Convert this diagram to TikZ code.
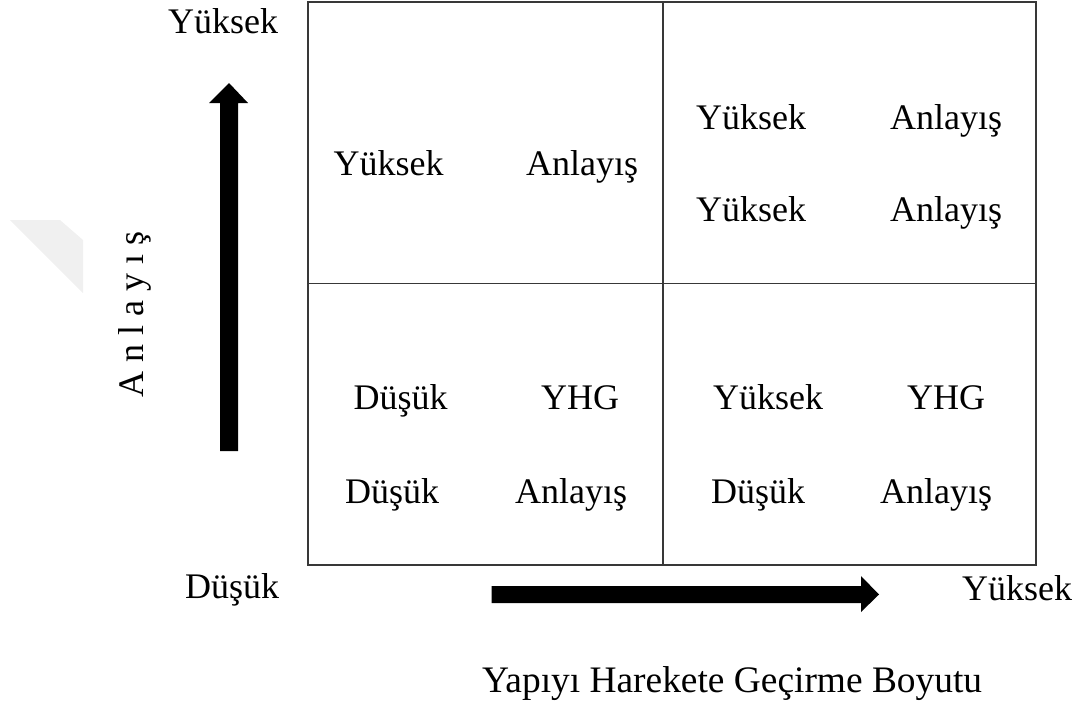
\documentclass[tikz,border=0pt]{standalone}
\usepackage{fontspec}
\setmainfont{Liberation Serif}
\begin{document}
\begin{tikzpicture}[x=1pt,y=-1pt,
  lbl/.style={anchor=base west,inner sep=0pt,font=\fontsize{36}{40}\selectfont},
  grid/.style={draw=black!78,line width=1.7pt},
  blockarrow/.style={fill=black}]
\useasboundingbox (0,0) rectangle (1073,704);

% faint mark at the left margin
\fill[black!6] (10,220) -- (60,220) -- (83,240) -- (83,293) -- cycle;

% 2x2 matrix
\coordinate (tl) at (308,2);
\coordinate (br) at (1036,565);
\coordinate (mt) at (663,2);
\coordinate (mb) at (663,565);
\coordinate (ml) at (308,283.5);
\coordinate (mr) at (1036,283.5);
\draw[grid] (tl) rectangle (br);
\draw[grid] (mt) -- (mb);
\draw[grid] (ml) -- (mr);

% vertical axis arrow
\coordinate (vb) at (229,451);
\coordinate (vt) at (229,83);
\fill[blockarrow] ([xshift=-9pt]vb) -- ([xshift=-9pt,yshift=-20pt]vt) -- ([xshift=-20pt,yshift=-20pt]vt)
  -- (vt) -- ([xshift=19pt,yshift=-20pt]vt) -- ([xshift=9pt,yshift=-20pt]vt) -- ([xshift=9pt]vb) -- cycle;

% horizontal axis arrow
\coordinate (hl) at (491.5,594.5);
\coordinate (hr) at (879,594.5);
\fill[blockarrow] ([yshift=-8.5pt]hl) -- ([xshift=-18pt,yshift=-8.5pt]hr) -- ([xshift=-18pt,yshift=-17.5pt]hr)
  -- (hr) -- ([xshift=-18pt,yshift=18.5pt]hr) -- ([xshift=-18pt,yshift=8.5pt]hr) -- ([yshift=8.5pt]hl) -- cycle;

% axis labels
\node[lbl] (yhi) at (168,33) {Yüksek};
\node[lbl] (ylo) at (185,598) {Düşük};
\node[lbl] (xhi) at (962,600) {Yüksek};
\node[lbl,rotate=90] (yax) at (143,398) {A n l a y ı ş};
\node[lbl,font=\fontsize{37.4}{42}\selectfont] (xax) at (482,692) {Yapıyı Harekete Geçirme Boyutu};

% top-left cell
\node[lbl] (a1) at (333.5,175) {Yüksek};
\node[lbl] (a2) at (526,175) {Anlayış};

% top-right cell
\node[lbl] (b1) at (696,129) {Yüksek};
\node[lbl] (b2) at (890,129) {Anlayış};
\node[lbl] (b3) at (696,221.5) {Yüksek};
\node[lbl] (b4) at (890,221.5) {Anlayış};

% bottom-left cell
\node[lbl] (c1) at (353.5,409) {Düşük};
\node[lbl] (c2) at (541,409) {YHG};
\node[lbl] (c3) at (345,503) {Düşük};
\node[lbl] (c4) at (515,503) {Anlayış};

% bottom-right cell
\node[lbl] (d1) at (713,409) {Yüksek};
\node[lbl] (d2) at (907,409) {YHG};
\node[lbl] (d3) at (711,503) {Düşük};
\node[lbl] (d4) at (880,503) {Anlayış};
\end{tikzpicture}
\end{document}
